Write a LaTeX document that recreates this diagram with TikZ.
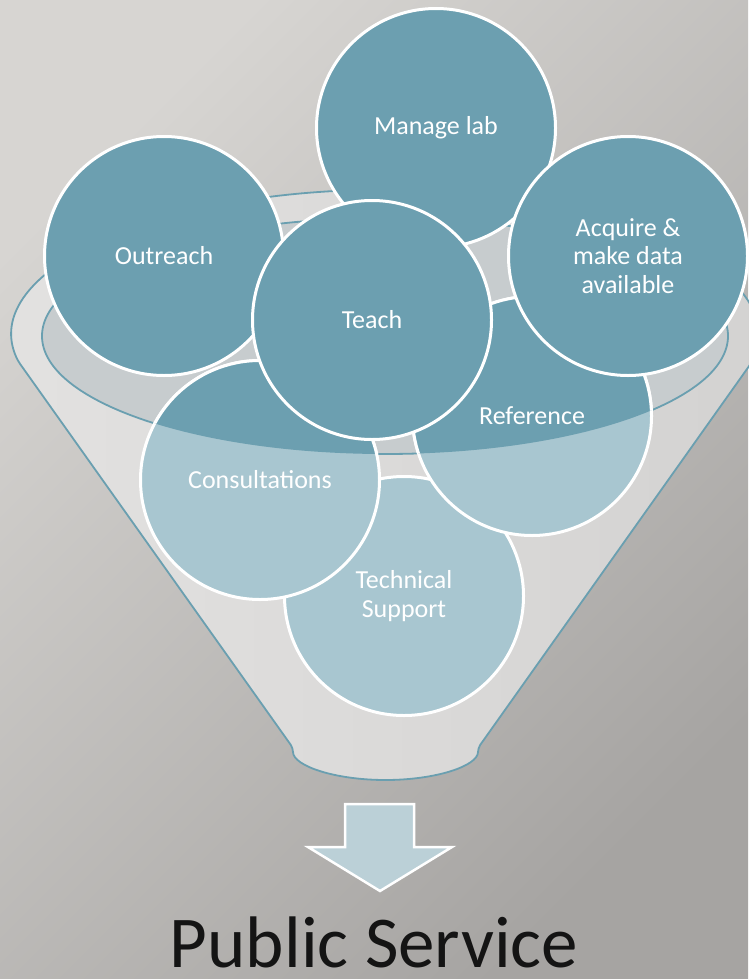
\documentclass[tikz,border=0pt]{standalone}
\usepackage{fontspec}
\setmainfont{Carlito}
\definecolor{bgA}{HTML}{D7D5D2}
\definecolor{bgB}{HTML}{A6A4A2}
\definecolor{funnelA}{HTML}{E3E2E1}
\definecolor{funnelB}{HTML}{D3D2D1}
\definecolor{rimline}{HTML}{6A9FB0}
\definecolor{opening}{HTML}{C7CCCE}
\definecolor{darkteal}{HTML}{6C9FB0}
\definecolor{lightteal}{HTML}{A8C6D0}
\definecolor{arrowfill}{HTML}{BBD0D7}
\begin{document}
\begin{tikzpicture}[x=1pt,y=-1pt,
  bubble/.style={circle, minimum size=239pt, inner sep=0pt, draw=white, line width=3pt,
    text=white, font=\fontsize{26}{28.5}\selectfont, align=center},
  topbubble/.style={bubble, fill=darkteal},
  lowbubble/.style={bubble, fill=lightteal},
  lbl/.style={text=white, font=\fontsize{26}{28.5}\selectfont, align=center, inner sep=0pt},
  funnelline/.style={draw=rimline, line width=1.8pt},
  overlay/.style={draw=white, line width=3pt, fill=darkteal},
]
\useasboundingbox (0,0) rectangle (748,979);
\shade[top color=bgA, bottom color=bgB, shading angle=45] (0,0) rectangle (748,979);

% funnel body
\coordinate (rimc) at (385,336);
\path[funnelline, left color=funnelA, right color=funnelB, rounded corners=4pt]
  (18,361) arc[start angle=190, end angle=-10, x radius=373pt, y radius=146pt]
  -- (478,748) arc[start angle=0, end angle=-180, x radius=92.5pt, y radius=32pt] -- cycle;
% opening
\draw[funnelline, fill=opening] (rimc) ellipse [x radius=343pt, y radius=118pt];

% lower bubbles
\node[lowbubble] (tech) at (404,596) {Technical\\Support};
\node[lowbubble] (ref) at (532,416) {};
\node[lowbubble] (cons) at (260,480) {Consultations};
\begin{scope}
  \clip (rimc) ellipse [x radius=343pt, y radius=118pt];
  \draw[overlay] (ref.center) circle [radius=119.5pt];
  \draw[overlay] (cons.center) circle [radius=119.5pt];
\end{scope}
\node[lbl] (reftext) at (ref.center) {Reference};

% upper bubbles
\node[topbubble] (outreach) at (164,256) {Outreach};
\node[topbubble] (manage) at (436,128) {Manage lab};
\node[topbubble] (acquire) at (628,256) {Acquire \&\\make data\\available};
\node[topbubble] (teach) at (372,320) {Teach};

% arrow
\path[draw=white, line width=2.5pt, fill=arrowfill, line join=miter]
  (345,804) -- (414,804) -- (414,847) -- (452,847) -- (380,891) -- (308,847) -- (345,847) -- cycle;

\node[font=\fontsize{73}{80}\selectfont, text=black!92, anchor=base, inner sep=0pt] (ps) at (374,967) {Public Service};
\end{tikzpicture}
\end{document}
